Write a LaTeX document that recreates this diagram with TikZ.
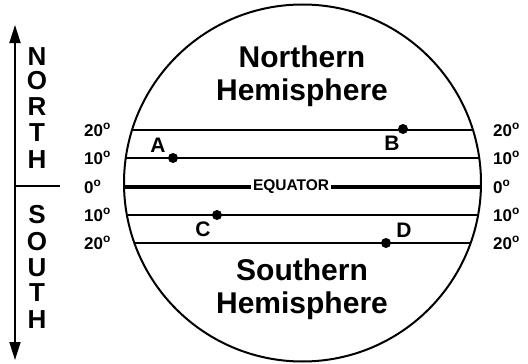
\documentclass[tikz,border=0pt]{standalone}
\usepackage{fontspec}
\setmainfont{Liberation Sans}
\usetikzlibrary{arrows.meta}
\tikzset{
  hemi/.style={font=\fontsize{30}{33}\selectfont\bfseries,align=center,inner sep=0pt},
  deglabel/.style={font=\fontsize{17}{17}\selectfont\bfseries,inner sep=0pt,anchor=west},
  dirletter/.style={font=\fontsize{26}{26}\selectfont\bfseries,inner sep=0pt},
  ptlabel/.style={font=\fontsize{21}{21}\selectfont\bfseries,inner sep=0pt},
  latline/.style={line width=1.8pt},
  spot/.style={circle,fill=black,inner sep=0pt,minimum size=10pt},
  axis/.style={{Triangle[length=18pt,width=11pt]}-{Triangle[length=18pt,width=11pt]},line width=1.8pt}
}
\begin{document}
\begin{tikzpicture}[x=1pt,y=-1pt]
  \useasboundingbox (0,0) rectangle (528,364);
  \coordinate (globe) at (302.5,183);
  \draw[line width=2pt] (globe) circle[radius=178.5];
  % latitude lines
  \begin{scope}
    \clip (globe) circle[radius=178.5];
    \foreach \y in {130,158,215,243}
      \draw[latline] (100,\y) -- (505,\y);
  \end{scope}
  \coordinate (eqW) at (124,187);
  \coordinate (eqE) at (481,187);
  \draw[line width=3.6pt] (eqW) -- node[pos=0.468,fill=white,inner sep=2pt,font=\fontsize{15.5}{15.5}\selectfont\bfseries] (eq) {EQUATOR} (eqE);
  % degree labels
  \foreach \y/\d in {130/20,158/10,187/0,215/10,243/20}{
    \node[deglabel] (degW\y) at (84,\y) {\d\textsuperscript{o}};
    \node[deglabel] (degE\y) at (493,\y) {\d\textsuperscript{o}};
  }
  \node[hemi] (north) at (302,76) {Northern\\Hemisphere};
  \node[hemi] (south) at (302,289) {Southern\\Hemisphere};
  % places
  \node[spot] (a) at (173,158) {};
  \node[spot] (b) at (403,129) {};
  \node[spot] (c) at (217,215) {};
  \node[spot] (d) at (386,243) {};
  \node[ptlabel] (la) at (158,145) {A};
  \node[ptlabel] (lb) at (392,143) {B};
  \node[ptlabel] (lc) at (203,229) {C};
  \node[ptlabel] (ld) at (404,230) {D};
  % north/south axis
  \coordinate (ntip) at (15,25);
  \coordinate (stip) at (15,360);
  \coordinate (mid) at (15,186);
  \coordinate (midE) at (60,186);
  \draw[axis] (stip) -- (ntip);
  \draw[line width=1.8pt] (mid) -- (midE);
  \foreach \l/\y in {N/57,O/81,R/107,T/133,H/160}
    \node[dirletter] (n\y) at (37,\y) {\l};
  \foreach \l/\y in {S/215,O/242,U/268,T/293,H/320}
    \node[dirletter] (s\y) at (37,\y) {\l};
\end{tikzpicture}
\end{document}
